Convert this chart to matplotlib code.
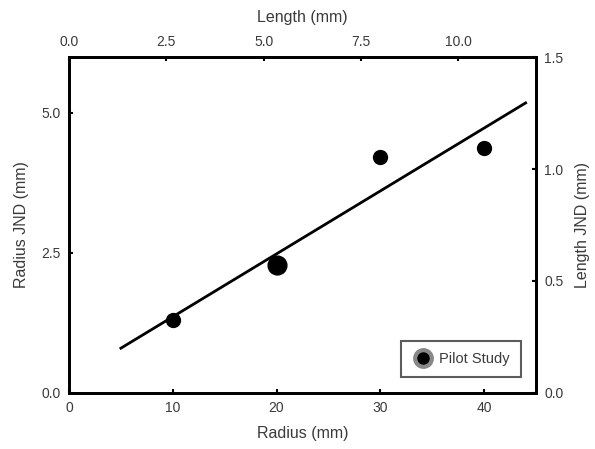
import matplotlib.pyplot as plt
from matplotlib.lines import Line2D

plt.rcParams['font.family'] = ['Liberation Sans', 'DejaVu Sans']

# data
radius = [10, 20, 20, 30, 40]
radius_jnd = [1.3, 2.25, 2.29, 4.22, 4.37]
marker_sizes = [10, 10, 13.5, 10, 10]
fit_x = [5, 44]
fit_y = [0.80, 5.18]

x_ticks = [0, 10, 20, 30, 40]
y_ticks = [0.0, 2.5, 5.0]
top_ticks = [0.0, 2.5, 5.0, 7.5, 10.0]
right_ticks = [0.0, 0.5, 1.0, 1.5]

txt = '#3a3a3a'

fig = plt.figure(figsize=(5.95, 4.49), dpi=100)
ax = fig.add_axes([69 / 595, 1 - 393 / 449, (536 - 69) / 595, (393 - 57) / 449])

ax.plot(fit_x, fit_y, color='black', lw=2)
for x, y, s in zip(radius, radius_jnd, marker_sizes):
    ax.plot(x, y, 'o', color='black', ms=s)

ax.set_xlim(0, 45)
ax.set_ylim(0, 6)
ax.set_xticks(x_ticks)
ax.set_yticks(y_ticks)
ax.set_yticklabels(['%.1f' % v for v in y_ticks])
ax.set_xlabel('Radius (mm)', fontsize=11.5, color=txt, labelpad=8)
ax.set_ylabel('Radius JND (mm)', fontsize=11.5, color=txt, labelpad=9)

top = ax.twiny()
top.set_xlim(0, 12)
top.set_xticks(top_ticks)
top.set_xticklabels(['%.1f' % v for v in top_ticks])
top.set_xlabel('Length (mm)', fontsize=11.5, color=txt, labelpad=9)

right = ax.twinx()
right.set_ylim(0, 1.5)
right.set_yticks(right_ticks)
right.set_yticklabels(['%.1f' % v for v in right_ticks])
right.set_ylabel('Length JND (mm)', fontsize=11.5, color=txt, labelpad=8)

for a in (ax, top, right):
    for sp in a.spines.values():
        sp.set_linewidth(1.8)
    a.tick_params(direction='in', length=3, width=1.5, labelsize=10,
                  labelcolor=txt, pad=6)

handle = Line2D([], [], marker='o', ls='none', ms=12, markerfacecolor='black',
                markeredgecolor='#888888', markeredgewidth=3)
leg = right.legend([handle], ['Pilot Study'], loc='lower right', fontsize=10.5,
                   frameon=True, fancybox=False, edgecolor='#333333',
                   borderpad=0.75, handletextpad=0.3, handlelength=1.6,
                   bbox_to_anchor=(0.983, 0.025))
leg.get_frame().set_linewidth(1.5)
for t in leg.get_texts():
    t.set_color(txt)

fig.savefig('out.png', dpi=100)
